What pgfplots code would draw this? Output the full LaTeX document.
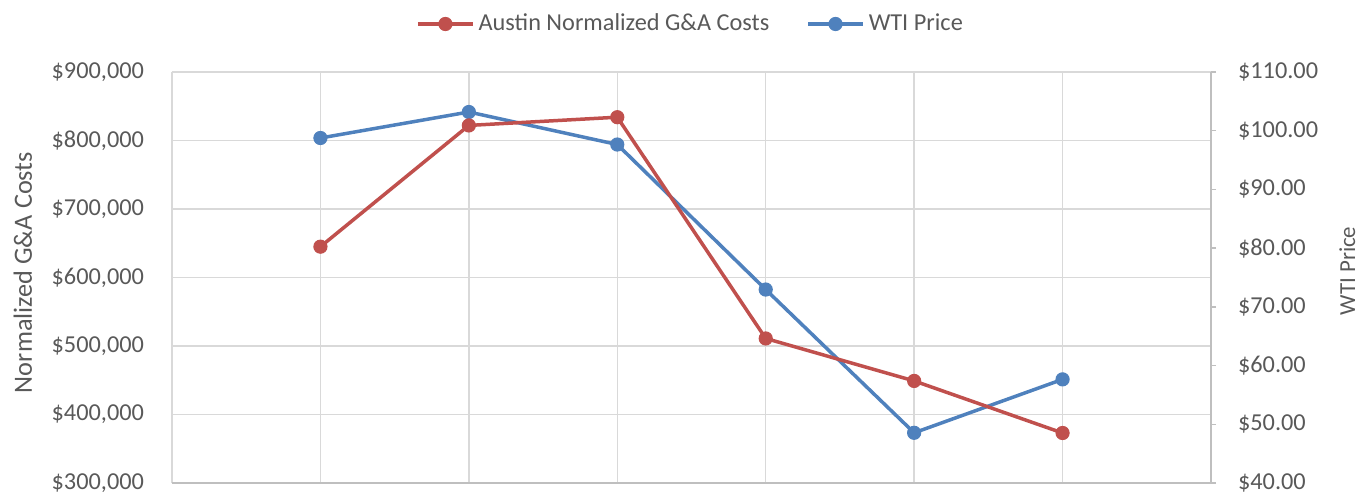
\documentclass[border=0pt]{standalone}
\usepackage{pgfplots}
\pgfplotsset{compat=1.18}
\usepackage{pgfplotstable}
\usepackage{fontspec}
\setmainfont{Carlito}
\definecolor{redc}{RGB}{192,80,77}
\definecolor{bluec}{RGB}{79,129,189}
\definecolor{gridc}{RGB}{217,217,217}
\definecolor{axc}{RGB}{191,191,191}
\definecolor{txt}{RGB}{89,89,89}

\pgfplotstableread{
x y
1 645000
2 822000
3 834000
4 511000
5 449000
6 373000
}\costs
\pgfplotstableread{
x y
1 98.76
2 103.19
3 97.65
4 72.95
5 48.55
6 57.65
}\wti

\pgfplotsset{base/.style={width=519.5bp,height=205.5bp,scale only axis,at={(0,0)},anchor=south west,xmin=0,xmax=7,
  font=\fontsize{12.2}{14.5}\selectfont, tick label style={text=txt}, scaled ticks=false}}

\begin{document}
\begin{tikzpicture}
\begin{axis}[base, ymin=300000, ymax=900000,
  ytick={300000,400000,500000,600000,700000,800000,900000},
  yticklabels={{\$300,000},{\$400,000},{\$500,000},{\$600,000},{\$700,000},{\$800,000},{\$900,000}},
  xtick={0,1,2,3,4,5,6,7}, xticklabels={,,,,,,,},
  grid=major, major grid style={gridc, line width=0.75bp},
  axis line style={draw=none}, major tick style={draw=none},
  yticklabel style={xshift=-10.5bp}]
\end{axis}
\draw[axc, line width=1bp] (0,0) -- (519.5bp,0);
\begin{axis}[base, ymin=40, ymax=110, axis y line*=right, axis x line=none,
  ytick={40,50,60,70,80,90,100,110},
  yticklabels={{\$40.00},{\$50.00},{\$60.00},{\$70.00},{\$80.00},{\$90.00},{\$100.00},{\$110.00}},
  tick align=outside, major tick length=2.5bp,
  axis line style={axc, line width=0.75bp}, major tick style={axc, line width=0.75bp},
  yticklabel style={xshift=7.5bp}]
\addplot[bluec, line width=1.75bp, mark=*, mark size=3.3bp, mark options={solid, fill=bluec, draw=bluec, line width=0.5bp}] table {\wti};
\end{axis}
\begin{axis}[base, hide axis, ymin=300000, ymax=900000,
  legend style={at={(axis description cs:0.5,1)}, anchor=center, yshift=24bp, draw=none, fill=none,
    font=\fontsize{12.2}{14.5}\selectfont, text=txt, /tikz/every even column/.append style={column sep=16.5bp}},
  legend columns=2, legend cell align=left,
  legend image code/.code={\draw[#1, mark repeat=2, mark phase=2] plot coordinates {(0bp,0bp) (13.75bp,0bp) (27.5bp,0bp)};}]
\addplot[redc, line width=1.75bp, mark=*, mark size=3.3bp, mark options={solid, fill=redc, draw=redc, line width=0.5bp}] table {\costs};
\addlegendentry{Austin Normalized G\&A Costs}
\addlegendimage{bluec, line width=1.75bp, mark=*, mark size=3.3bp, mark options={solid, fill=bluec, draw=bluec, line width=0.5bp}}
\addlegendentry{WTI Price}
\end{axis}
\node[rotate=90, anchor=base, text=txt, font=\fontsize{13.2}{15}\selectfont, inner sep=0pt] at (-70bp,105.25bp) {Normalized G\&A Costs};
\node[rotate=90, anchor=base, text=txt, font=\fontsize{11.5}{14}\selectfont, inner sep=0pt] at (591.5bp,106bp) {WTI Price};
\pgfresetboundingbox
\useasboundingbox (-86bp,-6bp) rectangle (594bp,241.5bp);
\end{tikzpicture}
\end{document}
